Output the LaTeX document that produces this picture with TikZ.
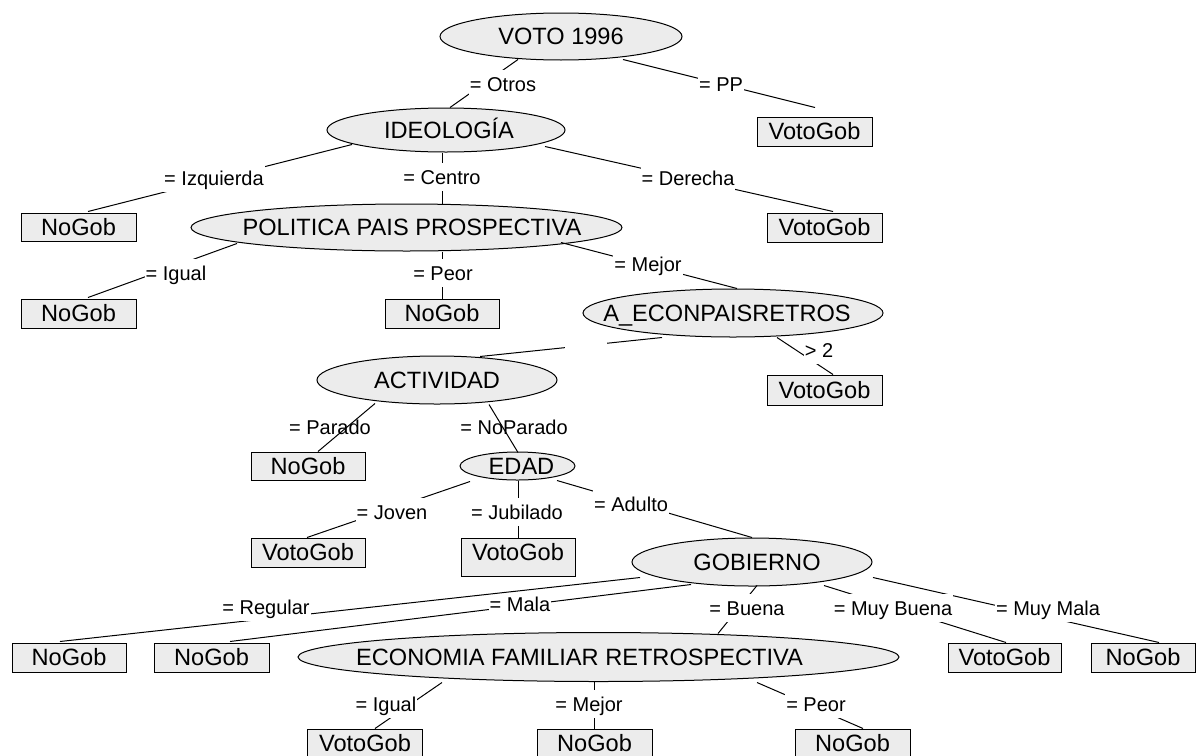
\documentclass[tikz,border=0pt]{standalone}
\usepackage{fontspec}
\setmainfont{Liberation Sans}
\usetikzlibrary{shapes.geometric}
\begin{document}
\begin{tikzpicture}[x=0.5pt,y=-0.5pt,
  tnode/.style={ellipse,draw=black,line width=0.5pt,fill=gray!15,inner sep=0pt,
    font=\fontsize{11.8pt}{14pt}\selectfont,text height=8.45pt,text depth=0pt},
  leaf/.style={rectangle,draw=black,line width=0.5pt,fill=gray!15,inner sep=0pt,
    font=\fontsize{11.8pt}{14pt}\selectfont,text height=8.45pt,text depth=0pt,
    minimum width=57.5pt,minimum height=14.5pt},
  elabel/.style={fill=white,inner xsep=0.5pt,inner ysep=0pt,minimum height=14pt,
    font=\fontsize{10pt}{12pt}\selectfont,text height=7.2pt,text depth=0pt},
  edge/.style={line width=0.5pt,draw=black}]
\useasboundingbox (0,0) rectangle (1197,755);
% inner nodes
\node[tnode,minimum width=121pt,minimum height=23.5pt] (voto) at (561,36.5) {\makebox[0pt]{VOTO 1996}};
\node[tnode,minimum width=119pt,minimum height=22pt] (ideo) at (446,130) {\makebox[0pt]{\hspace*{3pt}IDEOLOGÍA}};
\node[tnode,minimum width=215.5pt,minimum height=23.5pt] (poli) at (406.5,227.5) {\makebox[0pt]{\hspace*{5.5pt}POLITICA PAIS PROSPECTIVA}};
\node[tnode,minimum width=150pt,minimum height=24pt] (aecon) at (733,313) {\makebox[0pt]{\hspace*{-6pt}A\_ECONPAISRETROS}};
\node[tnode,minimum width=120pt,minimum height=24pt] (activ) at (437,380) {\makebox[0pt]{ACTIVIDAD}};
\node[tnode,minimum width=57.5pt,minimum height=14pt] (edad) at (517.5,466) {\makebox[0pt]{\hspace*{4pt}EDAD}};
\node[tnode,minimum width=120pt,minimum height=24pt] (gob) at (752,562) {\makebox[0pt]{\hspace*{5pt}GOBIERNO}};
\node[tnode,minimum width=300.5pt,minimum height=24.5pt] (econ) at (598.5,657) {\makebox[0pt]{\hspace*{-19pt}ECONOMIA FAMILIAR RETROSPECTIVA}};
% leaves
\node[leaf] (vg1) at (814.5,131.5) {VotoGob};
\node[leaf,minimum height=14pt] (ng1) at (78.5,227) {NoGob};
\node[leaf] (vg2) at (824.5,227.5) {VotoGob};
\node[leaf] (ng3) at (78.5,313.5) {NoGob};
\node[leaf,minimum width=57pt] (ng4) at (442,313.5) {NoGob};
\node[leaf,minimum height=15pt] (vg3) at (824.5,390) {VotoGob};
\node[leaf,minimum width=57pt,minimum height=14pt] (ng5) at (308,466) {NoGob};
\node[leaf,minimum width=57pt] (vg4) at (308,552.5) {VotoGob};
\node[leaf,minimum width=57pt,minimum height=19pt] (vg5) at (518,557) {\raisebox{2.5pt}{VotoGob}};
\node[leaf,minimum width=57pt] (ng6) at (69,657.5) {NoGob};
\node[leaf] (ng7) at (211.5,657.5) {NoGob};
\node[leaf,minimum width=56.5pt] (vg6) at (1004.5,657.5) {VotoGob};
\node[leaf,minimum width=52pt] (ng8) at (1143,657.5) {NoGob};
\node[leaf,minimum height=14pt] (vg7) at (365,743) {VotoGob};
\node[leaf,minimum height=14pt] (ng9) at (594.5,743) {NoGob};
\node[leaf,minimum height=14pt] (ng10) at (852.5,743) {NoGob};
% edges
\draw[edge] ([shift={(-43,-1)}]voto.south) -- ([shift={(4,0)}]ideo.north);
\draw[edge] ([shift={(62,-1)}]voto.south) -- ([shift={(0.5,-9)}]vg1.north);
\draw[edge] ([shift={(-94,-8)}]ideo.south) -- ([shift={(9.5,-1)}]ng1.north);
\draw[edge] ([shift={(-4,0)}]ideo.south) -- ([shift={(35.5,0)}]poli.north);
\draw[edge] ([shift={(99,-6)}]ideo.south) -- ([shift={(8.5,-1)}]vg2.north);
\draw[edge] ([shift={(-169.5,-8)}]poli.south) -- ([shift={(9.5,-1)}]ng3.north);
\draw[edge] ([shift={(35.5,0)}]poli.south) -- (ng4.north);
\draw[edge] ([shift={(154.5,-9)}]poli.south) -- ([shift={(4,0)}]aecon.north);
\draw[edge] ([shift={(-71,0)}]aecon.south) -- ([shift={(43,1)}]activ.north);
\draw[edge] ([shift={(44,0)}]aecon.south) -- ([shift={(8.5,0)}]vg3.north);
\draw[edge] ([shift={(-62,-1)}]activ.south) -- ([shift={(10,0)}]ng5.north);
\draw[edge] ([shift={(52,0)}]activ.south) -- ([shift={(0.5,1)}]edad.north);
\draw[edge] ([shift={(-47.5,1)}]edad.south) -- ([shift={(-1,0)}]vg4.north);
\draw[edge] ([shift={(0.5,0)}]edad.south) -- (vg5.north);
\draw[edge] ([shift={(39.5,0)}]edad.south) -- (gob.north);
\draw[edge] ([shift={(-112,-9)}]gob.south) -- ([shift={(-9,-1)}]ng6.north);
\draw[edge] ([shift={(-61,-2)}]gob.south) -- ([shift={(18.5,-1)}]ng7.north);
\draw[edge] ([shift={(5,-1)}]gob.south) -- ([shift={(119.5,1.5)}]econ.north);
\draw[edge] ([shift={(72,-1)}]gob.south) -- ([shift={(1.5,0)}]vg6.north);
\draw[edge] ([shift={(121,-9)}]gob.south) -- ([shift={(16,0)}]ng8.north);
\draw[edge] ([shift={(-156.5,0.5)}]econ.south) -- ([shift={(10,0)}]vg7.north);
\draw[edge] ([shift={(-4.5,0)}]econ.south) -- ([shift={(-0.5,0)}]ng9.north);
\draw[edge] ([shift={(158.5,0.5)}]econ.south) -- ([shift={(10.5,0)}]ng10.north);
% edge labels
\node[elabel] (lotros) at (503,84) {= Otros};
\node[elabel] (lpp) at (721,84) {= PP};
\node[elabel] (lizq) at (214,178) {= Izquierda};
\node[elabel] (lcentro) at (442,177) {= Centro};
\node[elabel] (lder) at (688,178) {= Derecha};
\node[elabel] (ligual) at (176,273) {= Igual};
\node[elabel] (lpeor) at (443,273) {= Peor};
\node[elabel] (lmejor) at (648,264) {= Mejor};
\node[fill=white,inner sep=0pt,minimum width=21pt,minimum height=5pt] (lgap) at (586,345.5) {};
\node[elabel] (lgt) at (819,350) {> 2};
\node[elabel,fill=none] (lparado) at (330,427) {= Parado};
\node[elabel,fill=none] (lnoparado) at (514,427) {= NoParado};
\node[elabel] (ljoven) at (392,512) {= Joven};
\node[elabel] (ljub) at (517,512) {= Jubilado};
\node[elabel] (ladulto) at (631,504) {= Adulto};
\node[elabel] (lregular) at (266,607) {= Regular};
\node[elabel,minimum height=8pt] (lmala) at (520,604) {= Mala};
\node[elabel] (lbuena) at (747,608) {= Buena};
\node[elabel] (lmuyb) at (893,608) {= Muy Buena};
\node[elabel] (lmuym) at (1048,608) {= Muy Mala};
\node[elabel] (ligual2) at (386,704) {= Igual};
\node[elabel] (lmejor2) at (589,704) {= Mejor};
\node[elabel] (lpeor2) at (816,704) {= Peor};
\end{tikzpicture}
\end{document}
